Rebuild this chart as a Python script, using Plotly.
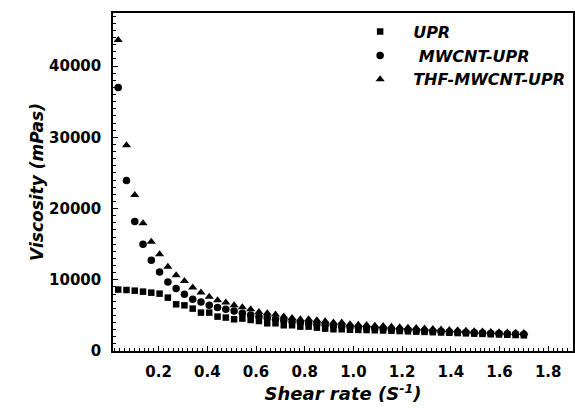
import plotly.graph_objects as go

shear_rate = [0.034, 0.068, 0.102, 0.136, 0.170, 0.204, 0.238, 0.272, 0.306, 0.340,
              0.374, 0.408, 0.442, 0.476, 0.510, 0.544, 0.578, 0.612, 0.646, 0.680,
              0.714, 0.748, 0.782, 0.816, 0.850, 0.884, 0.918, 0.952, 0.986, 1.020,
              1.054, 1.088, 1.122, 1.156, 1.190, 1.224, 1.258, 1.292, 1.326, 1.360,
              1.394, 1.428, 1.462, 1.496, 1.530, 1.564, 1.598, 1.632, 1.666, 1.700]

upr = [8620, 8560, 8470, 8330, 8190, 8050, 7490, 6550, 6410, 5950,
       5390, 5390, 4830, 4690, 4450, 4550, 4350, 4210, 3890, 3890,
       3610, 3610, 3420, 3420, 3280, 3140, 3050, 3050, 2990, 2960,
       2940, 2910, 2880, 2840, 2800, 2760, 2720, 2680, 2640, 2600,
       2560, 2520, 2480, 2440, 2400, 2360, 2320, 2280, 2240, 2200]

mwcnt_upr = [36970, 23915, 18160, 14980, 12730, 11090, 9690, 8760, 7960, 7260,
             6880, 6410, 6090, 5850, 5610, 5300, 5050, 4850, 4650, 4450,
             4300, 4150, 4000, 3900, 3780, 3680, 3580, 3480, 3400, 3320,
             3250, 3180, 3120, 3050, 3000, 2940, 2880, 2830, 2780, 2730,
             2680, 2640, 2590, 2550, 2510, 2470, 2440, 2400, 2370, 2340]

thf_mwcnt_upr = [43650, 28870, 21900, 17920, 15350, 13570, 11840, 10620, 9830, 8900,
                 8200, 7630, 7120, 6790, 6410, 6130, 5850, 5470, 5290, 5110,
                 4830, 4630, 4450, 4450, 4310, 4170, 3990, 3990, 3750, 3700,
                 3650, 3560, 3500, 3420, 3350, 3280, 3220, 3150, 3100, 3020,
                 2950, 2900, 2850, 2780, 2720, 2680, 2640, 2600, 2560, 2520]

series_names = ["UPR", " MWCNT-UPR", "THF-MWCNT-UPR"]
x_ticks = [0.2, 0.4, 0.6, 0.8, 1.0, 1.2, 1.4, 1.6, 1.8]
x_tick_labels = ["0.2", "0.4", "0.6", "0.8", "1.0", "1.2", "1.4", "1.6", "1.8"]
y_ticks = [0, 10000, 20000, 30000, 40000]
y_tick_labels = ["0", "10000", "20000", "30000", "40000"]

FONT = "DejaVu Sans"

fig = go.Figure()
symbols = ["square", "circle", "triangle-up"]
sizes = [6.5, 7.5, 8]
for name, ys, sym, sz in zip(series_names, [upr, mwcnt_upr, thf_mwcnt_upr], symbols, sizes):
    fig.add_trace(go.Scatter(
        x=shear_rate, y=ys, mode="markers", name=name,
        marker=dict(symbol=sym, size=sz, color="black", line=dict(width=0)),
    ))

axis_common = dict(
    showline=True, linecolor="black", linewidth=1.5, mirror=True,
    showgrid=False, zeroline=False, ticks="inside", tickcolor="black",
    tickwidth=1.2, ticklen=5,
    tickfont=dict(family=FONT, size=15, color="black", weight="bold"),
)

fig.update_xaxes(
    **axis_common,
    range=[0.0127, 1.9018],
    tickvals=x_ticks, ticktext=x_tick_labels,
    minor=dict(dtick=0.02, tick0=0, ticks="inside", ticklen=3, tickcolor="black", tickwidth=1),
    ticklabelstandoff=6,
    title=dict(text="Shear rate (S<sup>-1</sup>)",
               font=dict(family=FONT, size=18, color="black", weight="bold", style="italic"),
               standoff=0),
)
fig.update_yaxes(
    **axis_common,
    range=[0, 47440],
    tickvals=y_ticks, ticktext=y_tick_labels,
    minor=dict(dtick=1000, tick0=0, ticks="inside", ticklen=3, tickcolor="black", tickwidth=1),
    ticklabelstandoff=7,
    title=dict(text="Viscosity (mPas)",
               font=dict(family=FONT, size=17, color="black", weight="bold", style="italic"),
               standoff=1),
)

fig.update_layout(
    width=575, height=415,
    margin=dict(l=113, r=2, t=13, b=64, autoexpand=False),
    paper_bgcolor="white", plot_bgcolor="white",
    showlegend=True,
    legend=dict(
        x=0.509, y=0.995, xanchor="left", yanchor="top",
        bgcolor="rgba(0,0,0,0)", borderwidth=0,
        font=dict(family=FONT, size=16, color="black", weight="bold", style="italic"),
        itemwidth=56, tracegroupgap=0,
    ),
)

fig.write_html(
    "out.html",
    config={"displayModeBar": False},
    post_script="document.body.style.margin='0';document.body.style.overflow='hidden';",
)
